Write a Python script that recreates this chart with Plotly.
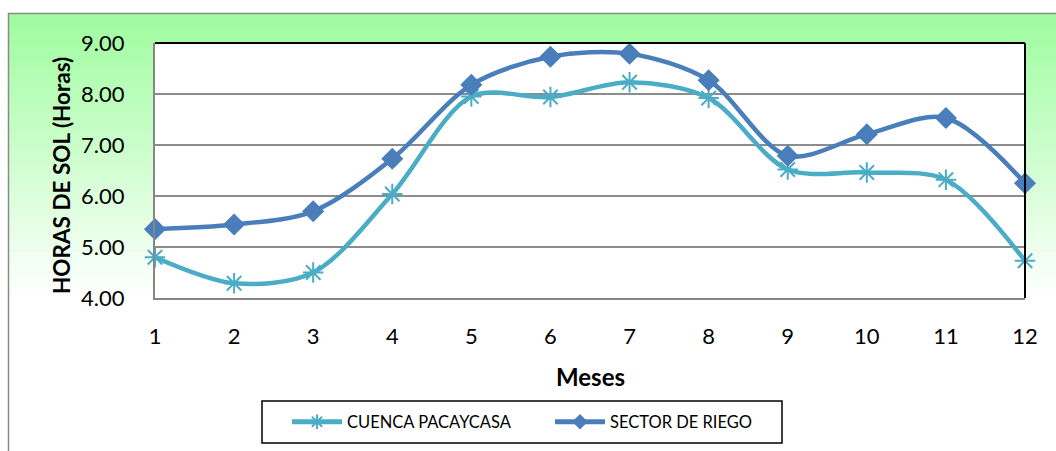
import plotly.graph_objects as go

# Monthly sunshine hours
meses = [1, 2, 3, 4, 5, 6, 7, 8, 9, 10, 11, 12]
cuenca_pacaycasa = [4.80, 4.29, 4.50, 6.04, 7.95, 7.94, 8.23, 7.92, 6.52, 6.46, 6.32, 4.73]
sector_de_riego = [5.35, 5.44, 5.70, 6.73, 8.18, 8.73, 8.79, 8.27, 6.79, 7.21, 7.53, 6.25]
y_ticks = [4, 5, 6, 7, 8, 9]
y_tick_labels = ["4.00", "5.00", "6.00", "7.00", "8.00", "9.00"]

W, H = 1056, 451
L, R, T, B = 155, 1025, 43, 298
FONT = "Lato, 'Open Sans', sans-serif"


def px_x(px):
    return (px - L) / (R - L)


def px_y(py):
    return (B - py) / (B - T)


shapes = []
# green-to-white gradient behind the chart
top_px, end_px, n = 13, 300, 72
c0 = (158, 252, 158)
for i in range(n):
    y0 = top_px + (end_px - top_px) * i / n
    y1 = top_px + (end_px - top_px) * (i + 1) / n
    f = (i + 0.5) / n
    col = tuple(round(c0[k] + (255 - c0[k]) * f) for k in range(3))
    shapes.append(dict(type="rect", xref="paper", yref="paper", layer="below",
                       x0=px_x(8), x1=px_x(W + 20), y0=px_y(y1 + 0.6), y1=px_y(y0),
                       fillcolor="rgb(%d,%d,%d)" % col, line=dict(width=0)))
# plot area background
shapes.append(dict(type="rect", xref="paper", yref="paper", layer="below",
                   x0=0, x1=1, y0=0, y1=1, fillcolor="white", line=dict(width=0)))
# outer chart frame
shapes.append(dict(type="rect", xref="paper", yref="paper", layer="below",
                   x0=px_x(8.5), x1=px_x(W + 20), y0=px_y(H + 20), y1=px_y(13.5),
                   fillcolor="rgba(0,0,0,0)", line=dict(color="#8a8a8a", width=1.5)))
# legend box
shapes.append(dict(type="rect", xref="paper", yref="paper", layer="below",
                   x0=px_x(262), x1=px_x(782), y0=px_y(443), y1=px_y(401),
                   fillcolor="white", line=dict(color="black", width=1.5)))
# top and right edges of the plot area
shapes.append(dict(type="line", xref="paper", yref="paper", layer="above",
                   x0=0, x1=1, y0=1, y1=1, line=dict(color="black", width=2)))
shapes.append(dict(type="line", xref="paper", yref="paper", layer="above",
                   x0=1, x1=1, y0=0, y1=1, line=dict(color="black", width=2)))

fig = go.Figure()
fig.add_trace(go.Scatter(
    x=meses, y=cuenca_pacaycasa, name="CUENCA PACAYCASA", mode="lines+markers",
    line=dict(color="#4bacc6", width=4.5, shape="spline", smoothing=0.9),
    marker=dict(symbol="asterisk-open", size=17, color="#4bacc6",
                line=dict(color="#4bacc6", width=2)),
    cliponaxis=False,
))
fig.add_trace(go.Scatter(
    x=meses, y=sector_de_riego, name="SECTOR DE RIEGO", mode="lines+markers",
    line=dict(color="#4a7ebb", width=4.5, shape="spline", smoothing=0.9),
    marker=dict(symbol="diamond", size=17, color="#4a7ebb"),
    cliponaxis=False,
))

annotations = [
    dict(text="<b>HORAS DE SOL (Horas)</b>", xref="paper", yref="paper",
         x=px_x(62), y=px_y(176), xanchor="center", yanchor="middle",
         textangle=-90, showarrow=False,
         font=dict(family=FONT, size=22.5, color="black")),
    dict(text="<b>Meses</b>", xref="paper", yref="paper",
         x=px_x(590), y=px_y(376), xanchor="center", yanchor="middle",
         showarrow=False,
         font=dict(family=FONT, size=24, color="black")),
]

fig.update_layout(
    width=W, height=H,
    margin=dict(l=L, r=W - R, t=T, b=H - B, pad=0),
    paper_bgcolor="white",
    plot_bgcolor="rgba(0,0,0,0)",
    shapes=shapes,
    annotations=annotations,
    font=dict(family=FONT, color="black"),
    xaxis=dict(range=[1, 12], tickvals=meses, ticktext=[str(m) for m in meses],
               showgrid=False, zeroline=False, showline=True, linecolor="#868686",
               linewidth=2, ticks="", ticklabelstandoff=18,
               tickfont=dict(family=FONT, size=22, color="black")),
    yaxis=dict(range=[4, 9], tickvals=y_ticks, ticktext=y_tick_labels,
               showgrid=True, gridcolor="#8c8c8c", gridwidth=2, zeroline=False,
               showline=True, linecolor="#868686", linewidth=2, ticks="",
               ticklabelstandoff=24,
               tickfont=dict(family=FONT, size=22, color="black")),
    legend=dict(orientation="h", x=px_x(287), y=px_y(422), xanchor="left", yanchor="middle",
                borderwidth=0, bgcolor="rgba(0,0,0,0)", itemsizing="constant",
                itemwidth=50, font=dict(family=FONT, size=16.5, color="black"),
                entrywidth=198, entrywidthmode="pixels"),
)

fig.write_html("out.html")
